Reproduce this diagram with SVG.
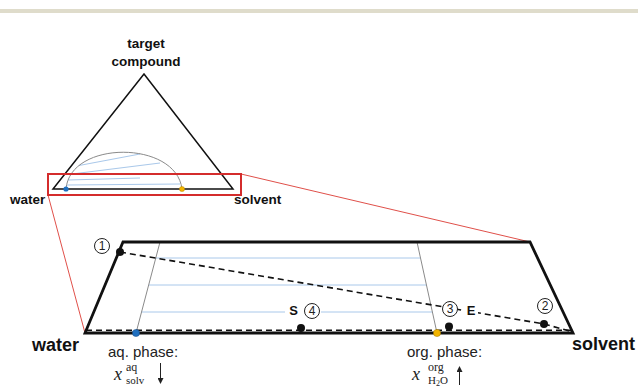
<svg xmlns="http://www.w3.org/2000/svg" width="638" height="388" viewBox="0 0 638 388">
<style>
.lbl{font-family:"Liberation Sans",Arial,sans-serif;font-weight:bold;fill:#111}
.txt{font-family:"Liberation Sans",Arial,sans-serif;fill:#222}
.num{font-family:"Liberation Sans",Arial,sans-serif;font-size:12px;fill:#222;text-anchor:middle}
.math{font-family:"Liberation Serif","DejaVu Serif",serif;fill:#222}
.tie{stroke:#a9c8ea;stroke-width:1;fill:none}
.gray{stroke:#8a8a8a;stroke-width:1;fill:none}
.dash{stroke:#111;stroke-width:1.6;stroke-dasharray:6 4;fill:none}
.dot{fill:#111}
.ring{fill:#fff;stroke:#222;stroke-width:1}
.red{stroke:#e0504a;stroke-width:1;fill:none}
</style>
<defs>
<marker id="ah" markerWidth="6" markerHeight="6" refX="3" refY="3" orient="auto" markerUnits="userSpaceOnUse">
<path d="M0,0 L6,3 L0,6 z" fill="#222"/>
</marker>
</defs>
<rect x="0" y="9" width="638" height="4" fill="#dfdccb"/>

<g id="connectors">
<line class="red" x1="241" y1="174" x2="530" y2="242"/>
<line class="red" x1="48" y1="195" x2="85" y2="333"/>
</g>

<g id="ternary">
<text class="lbl" x="146" y="48" font-size="13.5" text-anchor="middle">target</text>
<text class="lbl" x="146" y="66" font-size="13.5" text-anchor="middle">compound</text>
<line class="tie" x1="79" y1="165.5" x2="140" y2="154"/>
<line class="tie" x1="72" y1="174" x2="160" y2="163"/>
<line class="tie" x1="68" y1="180" x2="140" y2="178"/>
<line class="tie" x1="67" y1="185" x2="180" y2="184"/>
<path class="gray" d="M66,189 C70,140 176,140 182,189"/>
<polygon points="144,74 233,189 53,189" fill="none" stroke="#111" stroke-width="1.5"/>
<circle cx="66" cy="189" r="2.6" fill="#1f6fbf"/>
<circle cx="182" cy="189" r="2.6" fill="#f2b400" stroke="#b08000" stroke-width="0.4"/>
<rect x="48" y="174" width="193" height="21" fill="none" stroke="#d42c2c" stroke-width="2"/>
<text class="lbl" x="10" y="204" font-size="13.5">water</text>
<text class="lbl" x="234" y="204" font-size="13.5">solvent</text>
</g>

<g id="zoomed-region">
<line class="tie" x1="156" y1="258" x2="420.5" y2="258"/>
<line class="tie" x1="149" y1="285" x2="426.5" y2="285"/>
<line class="tie" x1="141" y1="312" x2="285" y2="312"/>
<line class="tie" x1="321" y1="312" x2="432.5" y2="312"/>
<line class="gray" x1="160" y1="242" x2="136" y2="333"/>
<line class="gray" x1="417" y1="242" x2="437" y2="333"/>
<polyline class="dash" points="120,252 544,324 573,332"/>
<line class="dash" x1="86" y1="330.3" x2="572" y2="330.3"/>
<polygon points="123,242 530,242 573,333 85,333" fill="none" stroke="#111" stroke-width="2.8" stroke-linejoin="miter"/>
<circle cx="136" cy="333" r="3.6" fill="#1f6fbf" stroke="#1a4f8a" stroke-width="0.5"/>
<circle cx="437" cy="333" r="3.6" fill="#f2b400" stroke="#a07800" stroke-width="0.5"/>
</g>

<g id="points">
<circle class="dot" cx="120" cy="252" r="4"/>
<circle class="dot" cx="301" cy="328" r="4"/>
<circle class="dot" cx="449" cy="326.5" r="4"/>
<circle class="dot" cx="544" cy="324" r="4"/>
<circle class="ring" cx="102" cy="246" r="7.5"/>
<text class="num" x="102" y="250.3">1</text>
<circle class="ring" cx="545" cy="306" r="7.5"/>
<text class="num" x="545" y="310.3">2</text>
<circle class="ring" cx="450" cy="309" r="7.5"/>
<text class="num" x="450" y="313.3">3</text>
<circle class="ring" cx="312" cy="311" r="7.5"/>
<text class="num" x="312" y="315.3">4</text>
<rect x="286" y="302" width="15" height="16" fill="#fff"/>
<text class="lbl" x="293.5" y="315" font-size="13" text-anchor="middle">S</text>
<rect x="464" y="302" width="14" height="16" fill="#fff"/>
<text class="lbl" x="471" y="315" font-size="13" text-anchor="middle">E</text>
</g>

<g id="labels">
<text class="lbl" x="32" y="351" font-size="18">water</text>
<text class="lbl" x="572" y="350" font-size="18">solvent</text>
<text class="txt" x="108" y="357" font-size="15">aq. phase:</text>
<text class="txt" x="407" y="357" font-size="15">org. phase:</text>
<text class="math" x="114" y="380" font-size="18" font-style="italic">x</text>
<text class="math" x="126" y="371" font-size="12">aq</text>
<text class="math" x="126" y="384" font-size="11">solv</text>
<line x1="160.5" y1="363" x2="160.5" y2="381" stroke="#222" stroke-width="1" marker-end="url(#ah)"/>
<text class="math" x="412" y="380" font-size="18" font-style="italic">x</text>
<text class="math" x="428" y="371" font-size="12">org</text>
<text class="math" x="428" y="384" font-size="11">H<tspan font-size="8" dy="1.5">2</tspan><tspan dy="-1.5">O</tspan></text>
<line x1="459.5" y1="385" x2="459.5" y2="369" stroke="#222" stroke-width="1" marker-end="url(#ah)"/>
</g>
</svg>
